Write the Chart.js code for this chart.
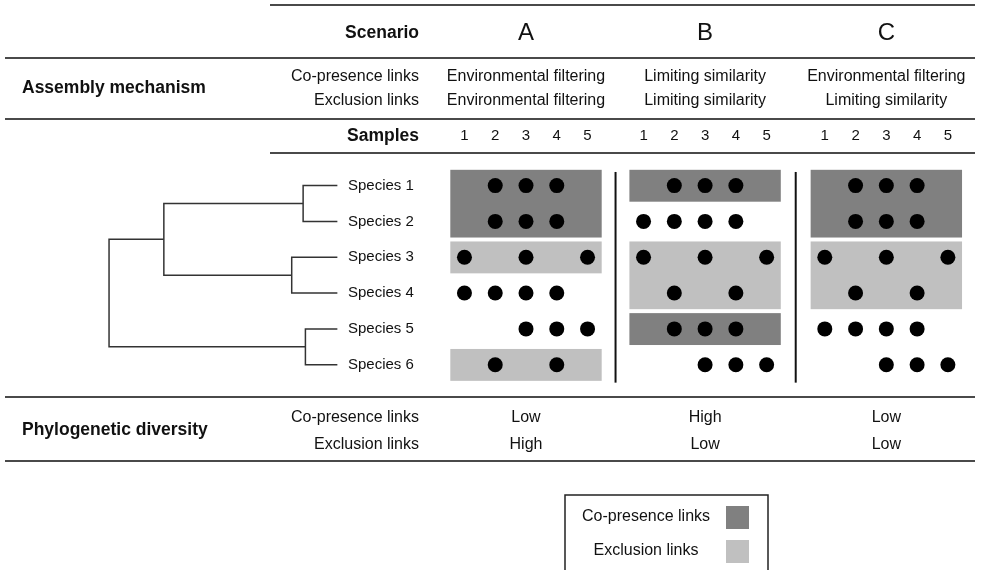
<!DOCTYPE html>
<html>
<head>
<meta charset="utf-8">
<script src="https://cdn.jsdelivr.net/npm/chart.js@4/dist/chart.umd.min.js"></script>
<style>
  body { margin: 0; background: #fff; }
  #wrap { width: 984px; height: 570px; position: relative; }
</style>
</head>
<body>
<div id="wrap"><canvas id="chart"></canvas></div>
<script>
// ---- data ----
var scenarios = ['A', 'B', 'C'];
var samples = [1, 2, 3, 4, 5];
var species = ['Species 1', 'Species 2', 'Species 3', 'Species 4', 'Species 5', 'Species 6'];

var mechCoPresence = ['Environmental filtering', 'Limiting similarity', 'Environmental filtering'];
var mechExclusion = ['Environmental filtering', 'Limiting similarity', 'Limiting similarity'];

var pdCoPresence = ['Low', 'High', 'Low'];
var pdExclusion = ['High', 'Low', 'Low'];

// presence of each species (rows) in samples 1-5 (cols)
var presenceA = [
    [0, 1, 1, 1, 0],
    [0, 1, 1, 1, 0],
    [1, 0, 1, 0, 1],
    [1, 1, 1, 1, 0],
    [0, 0, 1, 1, 1],
    [0, 1, 0, 1, 0]
];
var presenceB = [
    [0, 1, 1, 1, 0],
    [1, 1, 1, 1, 0],
    [1, 0, 1, 0, 1],
    [0, 1, 0, 1, 0],
    [0, 1, 1, 1, 0],
    [0, 0, 1, 1, 1]
];
var presenceC = [
    [0, 1, 1, 1, 0],
    [0, 1, 1, 1, 0],
    [1, 0, 1, 0, 1],
    [0, 1, 0, 1, 0],
    [1, 1, 1, 1, 0],
    [0, 0, 1, 1, 1]
];

// link blocks: [first species, last species]
var coPresenceA = [[1, 2]];
var exclusionA = [[3, 3], [6, 6]];
var coPresenceB = [[1, 1], [5, 5]];
var exclusionB = [[3, 4]];
var coPresenceC = [[1, 2]];
var exclusionC = [[3, 4]];

// dendrogram: merges (ids 1-6 = species, 7+ = earlier merges) and their heights (root 0, tips 1)
var treeMerge = [[1, 2], [3, 4], [5, 6], [7, 8], [10, 9]];
var treeHeight = [0.85, 0.80, 0.86, 0.24, 0];

// ---- layout ----
var scenarioOffset = [0, 5.82, 11.71];
var treeLeft = -10.55;   // x value of the tree root
var treeSpan = 7.42;     // x distance from root to tips
var darkGrey = '#808080';
var lightGrey = '#c0c0c0';
var font = '"Liberation Sans", Arial, sans-serif';

var presence = [presenceA, presenceB, presenceC];
var coLinks = [coPresenceA, coPresenceB, coPresenceC];
var exLinks = [exclusionA, exclusionB, exclusionC];

// dots
var dots = [];
presence.forEach(function(mat, s) {
    mat.forEach(function(row, i) {
        row.forEach(function(v, j) {
            if (v) dots.push({ x: scenarioOffset[s] + samples[j], y: i + 1 });
        });
    });
});

// dendrogram branches
var nodeY = {};
var nodeH = {};
species.forEach(function(sp, i) {
    nodeY[i + 1] = i + 1;
    nodeH[i + 1] = 1;
});
var tx = function(h) { return treeLeft + h * treeSpan; };
var treeSets = [];
treeMerge.forEach(function(m, k) {
    var id = species.length + k + 1;
    var h = treeHeight[k];
    nodeY[id] = (nodeY[m[0]] + nodeY[m[1]]) / 2;
    nodeH[id] = h;
    treeSets.push({
        type: 'scatter',
        showLine: true,
        pointRadius: 0,
        borderColor: '#333',
        borderWidth: 1.5,
        data: [
            { x: tx(nodeH[m[0]]), y: nodeY[m[0]] },
            { x: tx(h), y: nodeY[m[0]] },
            { x: tx(h), y: nodeY[m[1]] },
            { x: tx(nodeH[m[1]]), y: nodeY[m[1]] }
        ]
    });
});

// link rectangles, separators and all the table text
var tablePlugin = {
    id: 'table',
    beforeDatasetsDraw: function(chart) {
        var ctx = chart.ctx, xs = chart.scales.x, ys = chart.scales.y;
        ctx.save();
        scenarios.forEach(function(sc, s) {
            var x0 = xs.getPixelForValue(scenarioOffset[s] + samples[0] - 0.46);
            var x1 = xs.getPixelForValue(scenarioOffset[s] + samples[samples.length - 1] + 0.46);
            [[coLinks[s], darkGrey], [exLinks[s], lightGrey]].forEach(function(set) {
                ctx.fillStyle = set[1];
                set[0].forEach(function(b) {
                    var y0 = ys.getPixelForValue(b[0] - 0.44);
                    var y1 = ys.getPixelForValue(b[1] + 0.45);
                    ctx.fillRect(x0, y0, x1 - x0, y1 - y0);
                });
            });
        });
        ctx.restore();
    },
    afterDraw: function(chart) {
        var ctx = chart.ctx, xs = chart.scales.x, ys = chart.scales.y;
        ctx.save();

        // horizontal rules
        ctx.strokeStyle = '#4a4a4a';
        ctx.lineWidth = 2;
        [[270, 5], [5, 58], [5, 119], [270, 153], [5, 397], [5, 461]].forEach(function(r) {
            ctx.beginPath();
            ctx.moveTo(r[0], r[1]);
            ctx.lineTo(975, r[1]);
            ctx.stroke();
        });

        // vertical separators between scenarios
        ctx.strokeStyle = '#111';
        for (var s = 1; s < scenarios.length; s++) {
            var xm = (xs.getPixelForValue(scenarioOffset[s - 1] + 5.46) + xs.getPixelForValue(scenarioOffset[s] + 0.54)) / 2;
            ctx.beginPath();
            ctx.moveTo(xm, ys.getPixelForValue(0.62));
            ctx.lineTo(xm, ys.getPixelForValue(6.5));
            ctx.stroke();
        }

        ctx.fillStyle = '#111';
        ctx.textBaseline = 'middle';

        // row headings
        ctx.font = 'bold 17.5px ' + font;
        ctx.textAlign = 'left';
        ctx.fillText('Assembly mechanism', 22, 88);
        ctx.fillText('Phylogenetic diversity', 22, 430);
        ctx.textAlign = 'right';
        ctx.fillText('Scenario', 419, 33);
        ctx.fillText('Samples', 419, 136);

        ctx.font = '16px ' + font;
        ctx.fillText('Co-presence links', 419, 77);
        ctx.fillText('Exclusion links', 419, 101);
        ctx.fillText('Co-presence links', 419, 418);
        ctx.fillText('Exclusion links', 419, 445);

        // scenario columns
        ctx.textAlign = 'center';
        scenarios.forEach(function(sc, s) {
            var cx = xs.getPixelForValue(scenarioOffset[s] + samples[2]);
            ctx.font = '24px ' + font;
            ctx.fillText(sc, cx, 33);
            ctx.font = '16px ' + font;
            ctx.fillText(mechCoPresence[s], cx, 77);
            ctx.fillText(mechExclusion[s], cx, 101);
            ctx.fillText(pdCoPresence[s], cx, 418);
            ctx.fillText(pdExclusion[s], cx, 445);
            ctx.font = '15px ' + font;
            samples.forEach(function(n) {
                ctx.fillText(String(n), xs.getPixelForValue(scenarioOffset[s] + n), 136);
            });
        });

        // species labels
        ctx.textAlign = 'left';
        ctx.font = '15px ' + font;
        species.forEach(function(sp, i) {
            ctx.fillText(sp, 348, ys.getPixelForValue(i + 1));
        });

        // legend
        ctx.strokeStyle = '#222';
        ctx.lineWidth = 1.5;
        ctx.strokeRect(565, 495, 203, 90);
        ctx.fillStyle = darkGrey;
        ctx.fillRect(726, 506, 23, 23);
        ctx.fillStyle = lightGrey;
        ctx.fillRect(726, 540, 23, 23);
        ctx.fillStyle = '#111';
        ctx.textAlign = 'center';
        ctx.font = '16px ' + font;
        ctx.fillText('Co-presence links', 646, 517);
        ctx.fillText('Exclusion links', 646, 551);

        ctx.restore();
    }
};

new Chart(document.getElementById('chart'), {
    type: 'scatter',
    data: {
        datasets: [{
            label: 'Presence',
            data: dots,
            pointRadius: 7.5,
            pointBackgroundColor: '#000',
            pointBorderWidth: 0
        }].concat(treeSets)
    },
    options: {
        responsive: true,
        maintainAspectRatio: false,
        animation: false,
        events: [],
        layout: { padding: 0 },
        plugins: { legend: { display: false }, tooltip: { enabled: false } },
        scales: {
            x: { type: 'linear', display: false, bounds: 'data', min: -13.85, max: 17.64 },
            y: { type: 'linear', display: false, bounds: 'data', reverse: true, min: -3.97, max: 11.52 }
        }
    },
    plugins: [tablePlugin]
});
</script>
</body>
</html>
